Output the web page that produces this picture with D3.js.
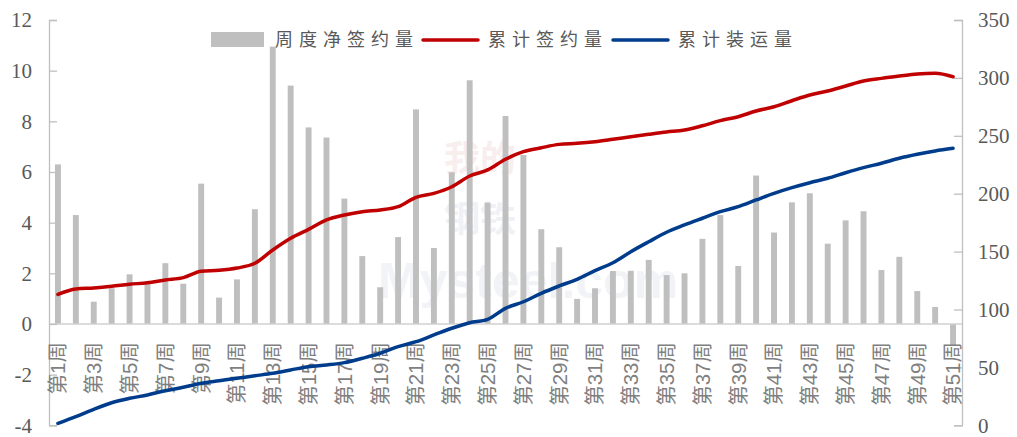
<!DOCTYPE html>
<html>
<head>
<meta charset="utf-8">
<script src="https://cdn.jsdelivr.net/npm/d3@7"></script>
<style>
  html, body { margin: 0; padding: 0; background: #ffffff; }
  svg { display: block; }
</style>
</head>
<body>
<div id="chart"></div>
<script>
// Weeks 1..51
const weeks = d3.range(1, 52).map(i => "第" + i + "周");

// Weekly net contracted volume (left axis)
const weeklyNet = [
  6.30, 4.30, 0.88, 1.41, 1.96, 1.57, 2.40, 1.59, 5.54, 1.04,
  1.76, 4.53, 10.95, 9.41, 7.76, 7.36, 4.95, 2.68, 1.45, 3.43,
  8.47, 3.00, 5.99, 9.62, 4.79, 8.21, 6.67, 3.74, 3.03, 0.99,
  1.41, 2.09, 2.10, 2.53, 1.93, 2.00, 3.36, 4.30, 2.29, 5.86,
  3.61, 4.80, 5.16, 3.17, 4.09, 4.45, 2.13, 2.65, 1.30, 0.67,
  -0.85
];

// Cumulative contracted volume (right axis)
const cumContract = [
  113.1, 117.7, 118.6, 120.0, 121.8, 123.1, 125.5, 127.5, 133.0, 133.8,
  135.8, 139.9, 151.4, 161.5, 169.2, 177.3, 181.6, 184.5, 185.9, 188.8,
  196.9, 200.3, 206.0, 215.3, 220.5, 229.7, 236.3, 239.7, 242.6, 243.5,
  244.9, 247.0, 249.2, 251.3, 253.3, 255.0, 258.7, 263.1, 266.5, 271.4,
  275.1, 280.3, 285.2, 288.7, 293.0, 297.3, 299.6, 301.6, 303.4, 304.0,
  301.0
];

// Cumulative shipped volume (right axis)
const cumShipped = [
  1.6, 7.4, 13.8, 19.5, 23.3, 26.2, 29.9, 32.8, 36.3, 38.5,
  40.6, 42.8, 44.9, 47.8, 50.6, 52.1, 54.1, 57.9, 62.2, 67.9,
  72.2, 78.0, 83.8, 88.6, 91.5, 101.0, 106.7, 114.0, 120.3, 126.1,
  133.5, 140.4, 149.9, 158.5, 166.7, 173.0, 178.8, 184.5, 188.8, 194.6,
  200.3, 205.2, 209.5, 213.3, 218.1, 222.5, 226.3, 230.6, 234.0, 236.9,
  239.2
];

const leftTicks = [-4, -2, 0, 2, 4, 6, 8, 10, 12];
const rightTicks = [0, 50, 100, 150, 200, 250, 300, 350];

const legendItems = [
  { name: "周度净签约量", type: "bar", color: "#bfbfbf" },
  { name: "累计签约量", type: "line", color: "#c00000" },
  { name: "累计装运量", type: "line", color: "#003c8c" }
];

const W = 1017, H = 437;
const plot = { left: 49, right: 962, top: 20, bottom: 425.3 };

const svg = d3.select("#chart").append("svg")
  .attr("width", W).attr("height", H);

const x = d3.scaleBand().domain(weeks)
  .range([plot.left, plot.right]).paddingInner(0.67).paddingOuter(0.335);
const yL = d3.scaleLinear().domain([-4, 12]).range([plot.bottom, plot.top]);
const yR = d3.scaleLinear().domain([0, 350]).range([plot.bottom, plot.top]);

const axisColor = "#bfbfbf";
const textColor = "#595959";

// Faint watermark behind the marks
const wm = svg.append("g").attr("pointer-events", "none");
wm.append("text").attr("x", 444).attr("y", 172)
  .attr("font-family", "Noto Sans CJK SC").attr("font-weight", "bold")
  .attr("font-size", 36).attr("fill", "#f9eeee").text("我的");
wm.append("text").attr("x", 444).attr("y", 232)
  .attr("font-family", "Noto Sans CJK SC").attr("font-weight", "bold")
  .attr("font-size", 36).attr("fill", "#eff1f6").text("钢铁");
wm.append("text").attr("x", 378).attr("y", 298)
  .attr("font-family", "Liberation Sans").attr("font-weight", "bold")
  .attr("font-size", 50).attr("fill", "#f1f3f7").text("Mysteel.com");

// Bars
svg.append("g").selectAll("rect").data(weeklyNet).join("rect")
  .attr("x", (d, i) => x(weeks[i]))
  .attr("width", x.bandwidth())
  .attr("y", d => yL(Math.max(0, d)))
  .attr("height", d => Math.abs(yL(d) - yL(0)))
  .attr("fill", "#bfbfbf");

// Zero baseline
svg.append("line")
  .attr("x1", plot.left).attr("x2", plot.right)
  .attr("y1", yL(0)).attr("y2", yL(0))
  .attr("stroke", "#d0d0d0").attr("stroke-width", 1.3);

// Left axis
const gL = svg.append("g").attr("transform", `translate(${plot.left},0)`)
  .call(d3.axisRight(yL).tickValues(leftTicks).tickSize(8).tickFormat(""));
gL.select(".domain").attr("stroke", axisColor).attr("stroke-width", 1.3);
gL.selectAll(".tick line").attr("stroke", axisColor).attr("stroke-width", 1.3);
svg.append("g").selectAll("text").data(leftTicks).join("text")
  .attr("x", 32).attr("y", d => yL(d)).attr("dy", "0.35em")
  .attr("text-anchor", "end")
  .attr("font-family", "Liberation Serif").attr("font-size", 21)
  .attr("fill", textColor).text(d => d);

// Right axis
const gR = svg.append("g").attr("transform", `translate(${plot.right},0)`)
  .call(d3.axisLeft(yR).tickValues(rightTicks).tickSize(8).tickFormat(""));
gR.select(".domain").attr("stroke", axisColor).attr("stroke-width", 1.3);
gR.selectAll(".tick line").attr("stroke", axisColor).attr("stroke-width", 1.3);
svg.append("g").selectAll("text").data(rightTicks).join("text")
  .attr("x", 978).attr("y", d => yR(d)).attr("dy", "0.35em")
  .attr("text-anchor", "start")
  .attr("font-family", "Liberation Serif").attr("font-size", 21)
  .attr("fill", textColor).text(d => d);

// Category labels (every other week), rotated
svg.append("g").selectAll("text")
  .data(weeks.filter((d, i) => i % 2 === 0)).join("text")
  .attr("transform", d => `translate(${x(d) + x.bandwidth() / 2},${yL(0) + 18}) rotate(-90)`)
  .attr("dy", "0.36em")
  .attr("text-anchor", "end")
  .attr("font-family", "Liberation Sans, Noto Sans CJK SC")
  .attr("font-size", 20.5)
  .attr("fill", "#7f7f7f")
  .text(d => d);

// Lines
const lineGen = d3.line()
  .x((d, i) => x(weeks[i]) + x.bandwidth() / 2)
  .y(d => yR(d))
  .curve(d3.curveMonotoneX);

svg.append("path").datum(cumContract)
  .attr("d", lineGen).attr("fill", "none")
  .attr("stroke", "#c00000").attr("stroke-width", 3.5)
  .attr("stroke-linejoin", "round").attr("stroke-linecap", "round");

svg.append("path").datum(cumShipped)
  .attr("d", lineGen).attr("fill", "none")
  .attr("stroke", "#003c8c").attr("stroke-width", 3.5)
  .attr("stroke-linejoin", "round").attr("stroke-linecap", "round");

// Legend
const legendPos = [
  { sx: 211, tx: 275 },
  { sx: 423, tx: 488 },
  { sx: 613, tx: 678 }
];
const lg = svg.append("g");
legendItems.forEach((it, i) => {
  const p = legendPos[i];
  if (it.type === "bar") {
    lg.append("rect").attr("x", p.sx).attr("y", 32).attr("width", 53).attr("height", 15)
      .attr("fill", it.color);
  } else {
    lg.append("line").attr("x1", p.sx).attr("x2", p.sx + 55)
      .attr("y1", 40).attr("y2", 40)
      .attr("stroke", it.color).attr("stroke-width", 3.5).attr("stroke-linecap", "round");
  }
  lg.append("text").attr("x", p.tx).attr("y", 40).attr("dy", "0.36em")
    .attr("font-family", "Noto Sans CJK SC").attr("font-size", 18)
    .attr("letter-spacing", 6)
    .attr("fill", textColor).text(it.name);
});
</script>
</body>
</html>
